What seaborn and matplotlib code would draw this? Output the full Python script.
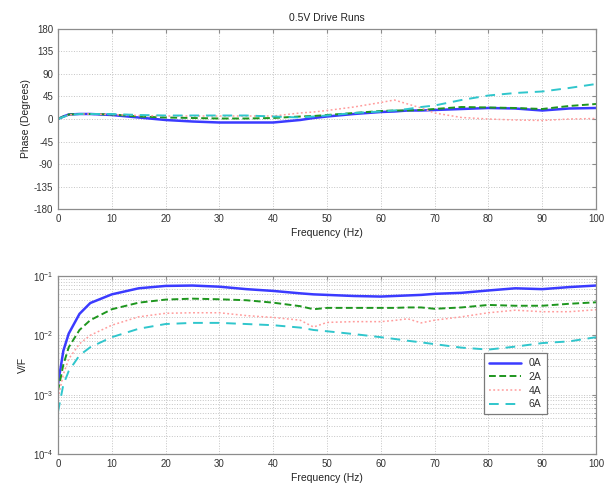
import matplotlib
matplotlib.use("Agg")
import matplotlib.pyplot as plt
from matplotlib.ticker import MultipleLocator, LogLocator, NullFormatter
import seaborn as sns
import pandas as pd

# Frequency points (Hz) shared by all runs
freq = [0, 1, 2, 4, 6, 10, 15, 20, 25, 30, 35, 40, 45, 47.5, 50, 55,
        60, 62.5, 65, 67.5, 70, 75, 80, 85, 90, 95, 100]

# Phase (degrees)
phase_0A = [0, 5, 9, 10, 10, 8, 3, -2, -5, -7, -7, -7, -2, 2, 5, 10,
            14, 15, 17, 17, 18, 20, 22, 21, 17, 21, 22]
phase_2A = [0, 5, 9, 10, 10, 9, 5, 3, 2, 1, 1, 2, 5, 6, 8, 12,
            16, 17, 17, 18, 20, 24, 23, 22, 20, 26, 30]
phase_4A = [0, 4, 8, 10, 10, 9, 7, 6, 6, 6, 6, 6, 12, 14, 17, 24,
            33, 38, 30, 22, 12, 3, 0, -2, -3, 0, 1]
phase_6A = [0, 4, 8, 10, 10, 10, 8, 7, 7, 7, 7, 5, 3, 5, 7, 12,
            15, 17, 20, 24, 27, 38, 47, 52, 55, 62, 70]

# Magnitude (V/F)
mag_0A = [1.5e-3, 5.5e-3, 1.07e-2, 2.3e-2, 3.5e-2, 4.9e-2, 6.2e-2, 6.8e-2, 6.9e-2,
          6.6e-2, 6.0e-2, 5.6e-2, 5.1e-2, 4.9e-2, 4.8e-2, 4.6e-2, 4.5e-2, 4.6e-2,
          4.7e-2, 4.8e-2, 5.0e-2, 5.2e-2, 5.7e-2, 6.2e-2, 6.0e-2, 6.5e-2, 6.9e-2]
mag_2A = [1.15e-3, 3.2e-3, 6.3e-3, 1.23e-2, 1.8e-2, 2.75e-2, 3.55e-2, 4.0e-2, 4.15e-2,
          4.05e-2, 3.9e-2, 3.55e-2, 3.1e-2, 2.75e-2, 2.9e-2, 2.9e-2, 2.9e-2, 2.9e-2,
          2.95e-2, 2.95e-2, 2.8e-2, 2.95e-2, 3.25e-2, 3.15e-2, 3.15e-2, 3.4e-2, 3.6e-2]
mag_4A = [8.7e-4, 2.2e-3, 4.0e-3, 7.2e-3, 1.0e-2, 1.48e-2, 2.05e-2, 2.35e-2, 2.4e-2,
          2.4e-2, 2.15e-2, 2.0e-2, 1.8e-2, 1.38e-2, 1.65e-2, 1.7e-2, 1.7e-2, 1.78e-2,
          1.9e-2, 1.62e-2, 1.8e-2, 2.05e-2, 2.4e-2, 2.65e-2, 2.5e-2, 2.5e-2, 2.7e-2]
mag_6A = [5.1e-4, 1.48e-3, 2.5e-3, 4.6e-3, 6.3e-3, 9.3e-3, 1.29e-2, 1.55e-2, 1.62e-2,
          1.62e-2, 1.55e-2, 1.48e-2, 1.35e-2, 1.23e-2, 1.17e-2, 1.05e-2, 9.3e-3, 8.7e-3,
          8.1e-3, 7.6e-3, 7.1e-3, 6.2e-3, 5.75e-3, 6.45e-3, 7.4e-3, 7.9e-3, 9.3e-3]

runs = ["0A", "2A", "4A", "6A"]
phases = [phase_0A, phase_2A, phase_4A, phase_6A]
mags = [mag_0A, mag_2A, mag_4A, mag_6A]

frames = []
for run, ph, mg in zip(runs, phases, mags):
    frames.append(pd.DataFrame({"freq": freq, "phase": ph, "mag": mg, "run": run}))
df = pd.concat(frames, ignore_index=True)

styles = {
    "0A": dict(color="#3b3bff", linestyle="-", lw=1.8),
    "2A": dict(color="#1e961e", linestyle=(0, (3.5, 1.8)), lw=1.4),
    "4A": dict(color="#ff9c9c", linestyle=(0, (1.2, 1.6)), lw=1.1),
    "6A": dict(color="#30c6cc", linestyle=(0, (5, 3.5)), lw=1.4),
}

sns.set_style("white")
plt.rcParams["font.family"] = ["Liberation Sans", "DejaVu Sans"]
plt.rcParams["mathtext.fontset"] = "custom"
plt.rcParams["mathtext.rm"] = "Liberation Sans"
plt.rcParams["mathtext.default"] = "regular"
plt.rcParams["axes.unicode_minus"] = False

fig = plt.figure(figsize=(6.09, 4.87), dpi=100)
ax1 = fig.add_axes([0.0952, 0.5708, 0.8835, 0.3697])
ax2 = fig.add_axes([0.0952, 0.0678, 0.8835, 0.3655])

for run in runs:
    sub = df[df["run"] == run]
    sns.lineplot(data=sub, x="freq", y="phase", ax=ax1, legend=False, **styles[run])
    sns.lineplot(data=sub, x="freq", y="mag", ax=ax2, label=run, **styles[run])

grid_kw = dict(color="#c4c4c4", linestyle=":", linewidth=0.7)
spine_c = "#8c8c8c"
tick_c = "#333333"

# Phase panel
ax1.set_xlim(0, 100)
ax1.set_ylim(-180, 180)
ax1.xaxis.set_major_locator(MultipleLocator(10))
ax1.yaxis.set_major_locator(MultipleLocator(45))
ax1.grid(True, **grid_kw)
ax1.set_title("0.5V Drive Runs", fontsize=7.5, color="#222222", pad=6)
ax1.set_xlabel("Frequency (Hz)", fontsize=7.5, color="#222222", labelpad=3)
ax1.set_ylabel("Phase (Degrees)", fontsize=7.5, color="#222222", labelpad=2)

# Magnitude panel
ax2.set_yscale("log")
ax2.set_xlim(0, 100)
ax2.set_ylim(1e-4, 1e-1)
ax2.xaxis.set_major_locator(MultipleLocator(10))
ax2.yaxis.set_major_locator(LogLocator(base=10, numticks=10))
ax2.yaxis.set_minor_locator(LogLocator(base=10, subs=range(2, 10), numticks=20))
ax2.yaxis.set_minor_formatter(NullFormatter())
ax2.grid(True, which="major", **grid_kw)
ax2.grid(True, which="minor", axis="y", **grid_kw)
ax2.set_xlabel("Frequency (Hz)", fontsize=7.5, color="#222222", labelpad=3)
ax2.set_ylabel("V/F", fontsize=7.5, color="#222222", labelpad=3)

for ax in (ax1, ax2):
    for s in ax.spines.values():
        s.set_color(spine_c)
        s.set_linewidth(0.9)
    ax.tick_params(which="both", direction="in", top=True, right=True,
                   colors=spine_c, labelcolor=tick_c, labelsize=7)
    ax.tick_params(which="major", length=3)
    ax.tick_params(which="minor", length=1.5)
    ax.set_axisbelow(True)

leg = ax2.legend(loc="upper left", bbox_to_anchor=(0.792, 0.567), fontsize=7.5,
                 frameon=True, fancybox=False, framealpha=1, edgecolor="#7a7a7a",
                 handlelength=3.0, handletextpad=0.8, borderpad=0.5, labelspacing=0.35,
                 borderaxespad=0)
leg.get_frame().set_linewidth(0.9)
for t in leg.get_texts():
    t.set_color("#333333")

fig.savefig("out.png", dpi=100)
